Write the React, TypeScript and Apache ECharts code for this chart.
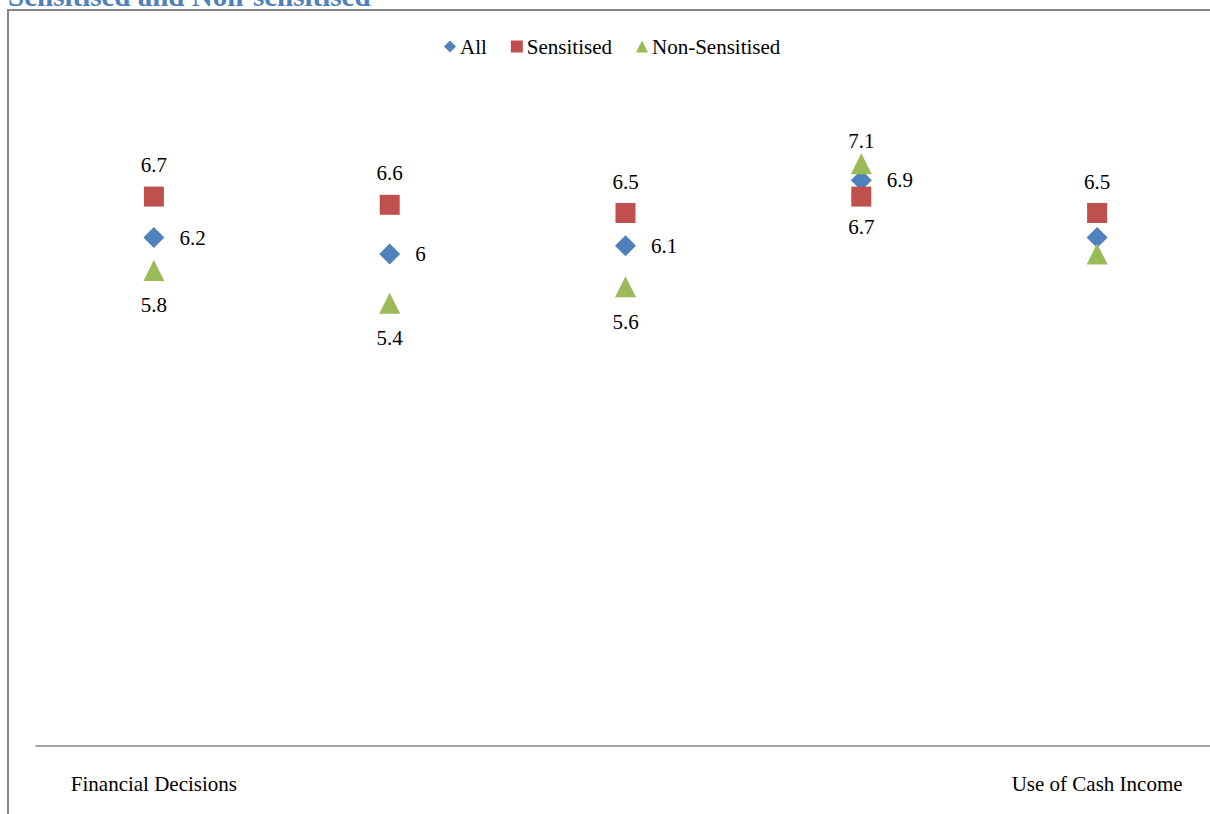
import React, { useEffect, useRef } from "react";
import * as echarts from "echarts";

const categories = [
  "Financial Decisions",
  "Household Purchases",
  "Savings",
  "Investment",
  "Use of Cash Income",
];
const allValues = [6.2, 6.0, 6.1, 6.9, 6.2];
const sensitisedValues = [6.7, 6.6, 6.5, 6.7, 6.5];
const nonSensitisedValues = [5.8, 5.4, 5.6, 7.1, 6.0];

const allLabelPos = ["right", "right", "right", "right", "none"];
const sensLabelPos = ["top", "top", "top", "bottom", "top"];
const nonLabelPos = ["bottom", "bottom", "bottom", "top", "none"];

const FONT = '"Liberation Serif", "Times New Roman", serif';

function items(values: number[], positions: string[], distances: Record<string, number>) {
  return values.map((v, i) => {
    const p = positions[i];
    if (p === "none") return { value: v, label: { show: false } };
    return { value: v, label: { show: true, position: p, distance: distances[p] } };
  });
}

export default function App() {
  const ref = useRef<HTMLDivElement>(null);
  useEffect(() => {
    if (!ref.current) return;
    const chart = echarts.init(ref.current, null, { renderer: "svg" });
    const labelBase = {
      show: true,
      color: "#000",
      fontFamily: FONT,
      fontSize: 21,
    };
    chart.setOption({
      animation: false,
      graphic: [
        {
          type: "rect",
          shape: { x: 8, y: 10, width: 1400, height: 1000 },
          style: { fill: "none", stroke: "#868686", lineWidth: 2 },
          silent: true,
        },
        {
          type: "text",
          x: 8,
          y: 10,
          style: {
            text: "Sensitised and Non-sensitised",
            font: `bold 29px ${FONT}`,
            fill: "#4F81BD",
            verticalAlign: "bottom",
            align: "left",
          },
        },
      ],
      legend: {
        top: 31,
        left: 439,
        itemWidth: 12,
        itemHeight: 12,
        itemGap: 24,
        textStyle: { fontFamily: FONT, fontSize: 21, color: "#000", padding: [0, 0, 0, -1] },
        data: [
          { name: "All", icon: "diamond" },
          { name: "Sensitised", icon: "rect" },
          { name: "Non-Sensitised", icon: "triangle" },
        ],
      },
      grid: { left: 36, top: 90, width: 1179, height: 656 },
      xAxis: {
        type: "category",
        data: categories,
        boundaryGap: true,
        axisLine: { show: true, lineStyle: { color: "#868686", width: 1.5 } },
        axisTick: { show: false },
        axisLabel: {
          interval: 3,
          margin: 27,
          color: "#000",
          fontFamily: FONT,
          fontSize: 21,
        },
      },
      yAxis: {
        type: "value",
        min: 0,
        max: 8,
        show: false,
        splitLine: { show: false },
      },
      series: [
        {
          name: "All",
          type: "scatter",
          symbol: "diamond",
          symbolSize: 21,
          itemStyle: { color: "#4F81BD", opacity: 1 },
          label: { ...labelBase },
          data: items(allValues, allLabelPos, { right: 15, top: 12, bottom: 12 }),
        },
        {
          name: "Sensitised",
          type: "scatter",
          symbol: "rect",
          symbolSize: 20,
          itemStyle: { color: "#C0504D", opacity: 1 },
          label: { ...labelBase },
          data: items(sensitisedValues, sensLabelPos, { top: 11, bottom: 10, right: 15 }),
        },
        {
          name: "Non-Sensitised",
          type: "scatter",
          symbol: "triangle",
          symbolSize: 21,
          itemStyle: { color: "#9BBB59", opacity: 1 },
          label: { ...labelBase },
          data: items(nonSensitisedValues, nonLabelPos, { top: 2, bottom: 14, right: 15 }),
        },
      ],
    });
    return () => chart.dispose();
  }, []);
  return (
    <div style={{ position: "absolute", left: 0, top: 0, width: 1210, height: 814, overflow: "hidden" }}>
      <div ref={ref} style={{ position: "absolute", left: 0, top: 0, width: 1260, height: 814 }} />
    </div>
  );
}
